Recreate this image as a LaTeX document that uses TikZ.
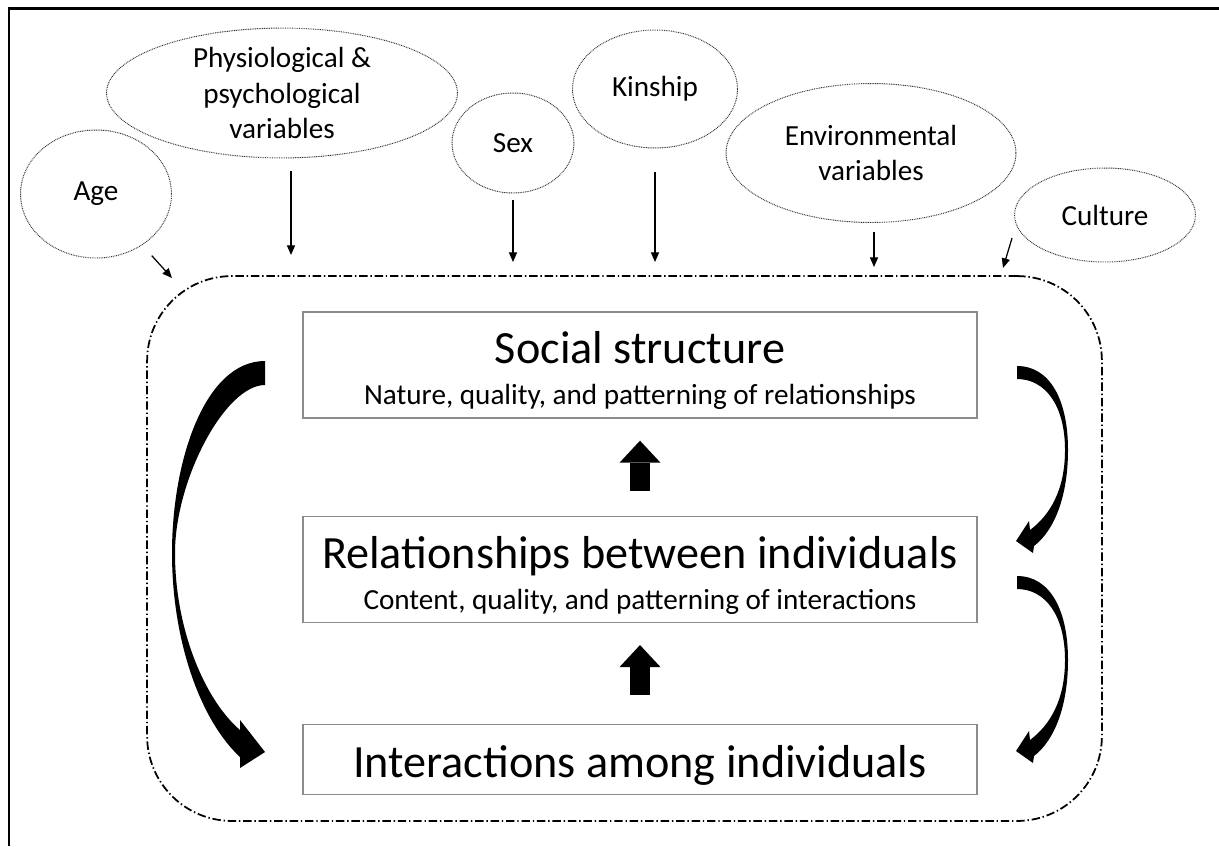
\documentclass[tikz,border=0pt]{standalone}
\usepackage{fontspec}
\setmainfont{Carlito}
\usetikzlibrary{calc,positioning,shapes.geometric,arrows.meta}

\tikzset{
  factor/.style={ellipse,draw=black!80,dash pattern=on 0.5pt off 0.5pt,line width=0.55pt,
    inner sep=0pt,align=center,font=\fontsize{16.6}{20.3}\selectfont},
  level/.style={rectangle,draw=black!45,line width=0.8pt,minimum width=13.48cm,
    align=center,font=\fontsize{16.6}{23.2}\selectfont},
  infl/.style={-{Triangle[length=5.5pt,width=4.6pt]},line width=0.7pt},
  blockup/.style={-{Triangle[length=0.44cm,width=0.82cm,line width=0pt]},line width=0.4cm},
  loopfill/.style={fill=black}
}
\newcommand\headline[1]{{\fontsize{26.3}{26}\selectfont\rule{0pt}{24.8pt}#1}}

\begin{document}
\begin{tikzpicture}[x=0.02cm,y=-0.02cm,node distance=1.94cm]
  \useasboundingbox (0,0) rectangle (1219,846);
  \draw[line width=1.4pt] (9,846) -- (9,8.5) -- (1219,8.5);

  % context boundary
  \node[draw,dash pattern=on 4.8pt off 1.6pt on 0.8pt off 1.6pt,line width=1pt,
        rounded corners=1.7cm,minimum width=19.1cm,minimum height=10.9cm] (ctx) at (624.5,548.5) {};

  % levels of social organisation
  \node[level,minimum height=2.12cm] (soc) at (640,365)
        {\headline{Social structure}\\Nature, quality, and patterning of relationships};
  \node[level,minimum height=2.12cm,below=of soc] (rel)
        {\headline{Relationships between individuals}\\Content, quality, and patterning of interactions};
  \node[level,minimum height=1.4cm,below=2.02cm of rel] (int)
        {\headline{Interactions among individuals}};

  % influencing factors
  \node[factor,minimum width=3.02cm,minimum height=2.56cm] (age) at (96,194) {Age};
  \node[factor,minimum width=7.02cm,minimum height=2.56cm] (phys) at (282,93) {Physiological \&\\psychological\\variables};
  \node[factor,minimum width=2.44cm,minimum height=2cm] (sex) at (513,143) {Sex};
  \node[factor,minimum width=3.3cm,minimum height=2.36cm] (kin) at (655,89) {Kinship};
  \node[factor,minimum width=5.8cm,minimum height=2.78cm] (env) at (871,153) {Environmental\\variables};
  \node[factor,minimum width=3.62cm,minimum height=1.88cm] (cult) at (1105,215) {Culture};

  \coordinate (ageEnd) at (172,278);
  \coordinate (physEnd) at (291,255);
  \coordinate (sexEnd) at (513,262);
  \coordinate (kinEnd) at (655,262);
  \coordinate (envEnd) at (874,267);
  \coordinate (cultEnd) at (1003,268);

  \draw[infl] ($(age.south east)+(2,16)$) -- (ageEnd);
  \draw[infl] ($(phys.south)+(9,13)$) -- (physEnd);
  \draw[infl] ($(sex.south)+(0,7)$) -- (sexEnd);
  \draw[infl] ($(kin.south)+(0,24)$) -- (kinEnd);
  \draw[infl] ($(env.south)+(3,9)$) -- (envEnd);
  \draw[infl] ($(cult.west)+(-2,23)$) -- (cultEnd);

  % upward arrows
  \draw[blockup,shorten <=0.5cm,shorten >=0.44cm] (rel) -- (soc);
  \draw[blockup,shorten <=0.58cm,shorten >=0.44cm] (int) -- (rel);

  % curved arrows
  \fill[loopfill] (265,361) .. controls (205,361) and (172,460) .. (172,553)
        .. controls (172,640) and (200,720) .. (240,757) -- (240,768) -- (265,752)
        -- (240,720) -- (240,730) .. controls (205,700) and (175,630) .. (175,553)
        .. controls (175,480) and (225,385) .. (265,385) -- cycle;
  \fill[loopfill] (1017,366) .. controls (1050,366) and (1068,400) .. (1068,450)
        .. controls (1068,495) and (1055,530) .. (1034,546) -- (1033,553) -- (1016,541)
        -- (1029,521) -- (1030,530) .. controls (1050,515) and (1065,490) .. (1065,450)
        .. controls (1065,405) and (1045,379) .. (1017,379) -- cycle;
  \fill[loopfill,shift={(0,210)}] (1017,366) .. controls (1050,366) and (1068,400) .. (1068,450)
        .. controls (1068,495) and (1055,530) .. (1034,546) -- (1033,553) -- (1016,541)
        -- (1029,521) -- (1030,530) .. controls (1050,515) and (1065,490) .. (1065,450)
        .. controls (1065,405) and (1045,379) .. (1017,379) -- cycle;
\end{tikzpicture}
\end{document}
